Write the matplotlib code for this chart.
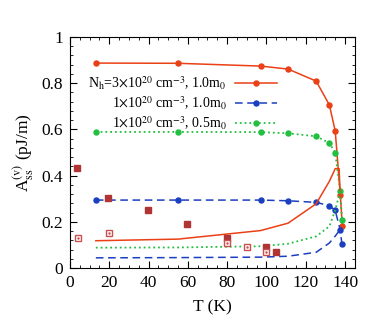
import matplotlib
matplotlib.use('Agg')
import matplotlib.pyplot as plt
from matplotlib.ticker import MultipleLocator

plt.rcParams['font.family'] = ['Liberation Serif', 'DejaVu Serif']
plt.rcParams['mathtext.fontset'] = 'stix'

# N_h = 3e20, 1.0 m0  (upper branch with markers, lower branch without)
t_red = [13.2, 55, 97, 111, 125.3, 132, 135, 137.6, 138.6]
a_red = [0.887, 0.886, 0.874, 0.861, 0.809, 0.706, 0.593, 0.316, 0.183]
t_red_lo = [13.2, 55, 97, 111, 125.3, 132, 135, 137, 137.3, 137.6]
a_red_lo = [0.118, 0.125, 0.162, 0.194, 0.278, 0.375, 0.43, 0.43, 0.36, 0.316]

# 1e20, 1.0 m0
t_blue = [13.2, 55, 97, 111, 125.3, 132, 135, 137.5, 138.4]
a_blue = [0.294, 0.294, 0.294, 0.291, 0.284, 0.27, 0.249, 0.166, 0.104]
t_blue_lo = [13.2, 55, 97, 111, 125.3, 132, 135, 137.5]
a_blue_lo = [0.044, 0.045, 0.047, 0.051, 0.068, 0.108, 0.138, 0.166]

# 1e20, 0.5 m0
t_green = [13.2, 55, 97, 111, 125.3, 132, 135, 137.5, 138.5]
a_green = [0.589, 0.589, 0.588, 0.583, 0.570, 0.541, 0.499, 0.333, 0.207]
t_green_lo = [13.2, 55, 97, 111, 125.3, 132, 135, 137.5]
a_green_lo = [0.088, 0.089, 0.094, 0.105, 0.137, 0.18, 0.25, 0.333]

# experimental points
t_exp1 = [3.5, 19.5, 39.5, 59.7, 79.8, 99.8, 104.9]
a_exp1 = [0.431, 0.302, 0.251, 0.19, 0.128, 0.09, 0.069]
t_exp2 = [4.2, 19.7, 79.8, 90, 99.8]
a_exp2 = [0.128, 0.15, 0.11, 0.09, 0.068]

red = '#ea4016'
blue = '#1a3fc0'
green = '#22c040'

fig = plt.figure(figsize=(3.82, 3.2), dpi=100)
ax = fig.add_axes([0.183, 0.1625, 0.746, 0.722])

ax.plot(t_red, a_red, '-', color=red, lw=1.1, marker='o', ms=3.6,
        label=r'N$_\mathrm{h}$=3$\times$10$^{20}$ cm$^{-3}$, 1.0m$_0$')
ax.plot(t_blue, a_blue, '--', color=blue, lw=1.1, marker='o', ms=3.6, dashes=(5, 3),
        label=r'1$\times$10$^{20}$ cm$^{-3}$, 1.0m$_0$')
ax.plot(t_green, a_green, ':', color=green, lw=1.3, marker='o', ms=3.6,
        label=r'1$\times$10$^{20}$ cm$^{-3}$, 0.5m$_0$')
ax.plot(t_red_lo, a_red_lo, '-', color=red, lw=1.1)
ax.plot(t_blue_lo, a_blue_lo, '--', color=blue, lw=1.1, dashes=(5, 3))
ax.plot(t_green_lo, a_green_lo, ':', color=green, lw=1.3)

ax.plot(t_exp1, a_exp1, 's', color='#b03434', ms=3.8, ls='none')
ax.plot(t_exp2, a_exp2, 's', mfc='white', mec='#c85050', mew=1.0, ms=4.2, ls='none')
ax.plot(t_exp2, a_exp2, '.', color='#c85050', ms=1.5, ls='none')

ax.set_xlim(0, 145)
ax.set_ylim(0, 1)
ax.xaxis.set_major_locator(MultipleLocator(20))
ax.xaxis.set_minor_locator(MultipleLocator(5))
ax.yaxis.set_minor_locator(MultipleLocator(0.04))
ax.set_yticks([0, 0.2, 0.4, 0.6, 0.8, 1.0])
ax.set_yticklabels(['0', '0.2', '0.4', '0.6', '0.8', '1'])
ax.tick_params(which='both', direction='in', top=True, right=True, labelsize=12.5)
ax.tick_params(which='major', length=5, pad=5)
ax.tick_params(which='minor', length=2.5)

ax.set_xlabel('T (K)', fontsize=12.5, labelpad=6)
ax.set_ylabel(r'A$_\mathrm{ss}^\mathrm{(v)}$ (pJ/m)', fontsize=12.5, labelpad=4)

ax.legend(loc='upper right', bbox_to_anchor=(0.755, 0.875), frameon=False,
          markerfirst=False, fontsize=10, handlelength=3.0, labelspacing=0.2,
          borderpad=0.1, handletextpad=0.6)

fig.savefig('out.png', dpi=100)
